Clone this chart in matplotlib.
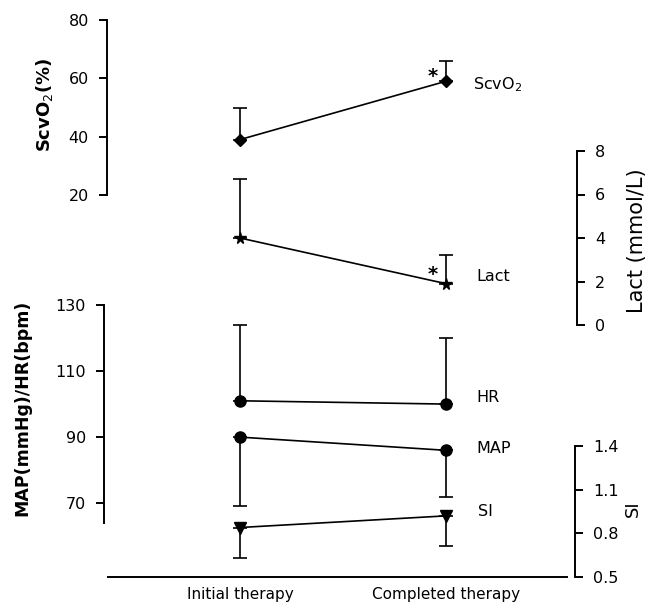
import matplotlib
matplotlib.use('Agg')
import matplotlib.pyplot as plt

plt.rcParams['font.family'] = ['DejaVu Sans']

# ---- data ----
categories = ['Initial therapy', 'Completed therapy']
scvo2 = [39, 59]
scvo2_sd = [11, 7]
lact = [4.0, 1.9]
lact_sd = [2.7, 1.3]
hr = [101, 100]
hr_sd = [23, 20]
map_vals = [90, 86]
map_sd = [21, 14]
si = [0.84, 0.92]
si_sd = [0.21, 0.21]

scv_ticks = [20, 40, 60, 80]
lact_ticks = [0, 2, 4, 6, 8]
map_ticks = [70, 90, 110, 130]
si_ticks = [0.5, 0.8, 1.1, 1.4]
si_ticklabels = ['0.5', '0.8', '1.1', '1.4']

# ---- layout (pixels) ----
W, H = 649, 608
X0, XU = 240, 206  # pixel of first category, pixels per category step
fig = plt.figure(figsize=(W / 100, H / 100), dpi=100)
LW = 1.4
TICKFS = 11.5


def make_ax(left_px, right_px, top_px, bottom_px):
    ax = fig.add_axes([left_px / W, 1 - bottom_px / H,
                       (right_px - left_px) / W, (bottom_px - top_px) / H])
    ax.set_xlim((left_px - X0) / XU, (right_px - X0) / XU)
    ax.patch.set_visible(False)
    for s in ax.spines.values():
        s.set_visible(False)
        s.set_linewidth(LW)
    ax.set_xticks([])
    ax.set_yticks([])
    return ax


x = list(range(len(categories)))
ekw = dict(color='black', lw=1.2, capsize=5, capthick=1.2, clip_on=False,
           elinewidth=1.2)

# ScvO2 axis (top-left)
ax_scv = make_ax(107, 577, 20, 195)
ax_scv.set_ylim(20, 80)
ax_scv.spines['left'].set_visible(True)
ax_scv.set_yticks(scv_ticks)
ax_scv.tick_params(axis='y', left=True, direction='out', length=6, width=LW,
                   pad=7, labelsize=TICKFS)
ax_scv.errorbar(x, scvo2, yerr=[[0, 0], scvo2_sd], marker='D', ms=6.5,
                mfc='black', mec='black', **ekw)

# Lact axis (right, upper)
ax_lact = make_ax(107, 577, 151, 325)
ax_lact.set_ylim(0, 8)
ax_lact.spines['right'].set_visible(True)
ax_lact.yaxis.tick_right()
ax_lact.set_yticks(lact_ticks)
ax_lact.tick_params(axis='y', right=True, left=False, direction='out',
                    length=6, width=LW, pad=7, labelsize=TICKFS)
ax_lact.errorbar(x, lact, yerr=[[0, 0], lact_sd], marker='*', ms=8.5,
                 mfc='black', mec='black', **ekw)

# MAP / HR axis (lower-left)
ax_map = make_ax(104, 577, 305, 523)
ax_map.set_ylim(64, 130)
ax_map.spines['left'].set_visible(True)
ax_map.set_yticks(map_ticks)
ax_map.tick_params(axis='y', left=True, direction='out', length=6, width=LW,
                   pad=7, labelsize=TICKFS)
ax_map.errorbar(x, hr, yerr=[[0, 0], hr_sd], marker='o', ms=8,
                mfc='black', mec='black', **ekw)
ax_map.errorbar(x, map_vals, yerr=[map_sd, [0, 0]], marker='o', ms=8,
                mfc='black', mec='black', **ekw)

# SI axis (right, lower) + bottom line with category labels
ax_si = make_ax(107, 575, 446, 577)
ax_si.set_ylim(0.5, 1.4)
ax_si.spines['right'].set_visible(True)
ax_si.spines['bottom'].set_visible(True)
ax_si.spines['bottom'].set_bounds((108 - X0) / XU, (567 - X0) / XU)
ax_si.yaxis.tick_right()
ax_si.set_yticks(si_ticks)
ax_si.set_yticklabels(si_ticklabels)
ax_si.tick_params(axis='y', right=True, left=False, direction='out',
                  length=6, width=LW, pad=7, labelsize=TICKFS)
ax_si.set_xticks(x)
ax_si.set_xticklabels(categories)
ax_si.tick_params(axis='x', length=0, pad=7, labelsize=11)

ax_si.errorbar(x, si, yerr=[si_sd, [0, 0]], marker='v', ms=8,
               mfc='black', mec='black', **ekw)

# series labels and significance marks
lab_kw = dict(textcoords='offset pixels', ha='left', va='center', fontsize=11.5)
ax_scv.annotate('ScvO$_2$', (x[1], scvo2[1]), xytext=(27, -3), **lab_kw)
ax_lact.annotate('Lact', (x[1], lact[1]), xytext=(30, 7), **lab_kw)
ax_map.annotate('HR', (x[1], hr[1]), xytext=(30, 7), **lab_kw)
ax_map.annotate('MAP', (x[1], map_vals[1]), xytext=(30, 2), **lab_kw)
ax_si.annotate('SI', (x[1], si[1]), xytext=(32, 4), **lab_kw)

ast_kw = dict(textcoords='offset pixels', ha='center', va='center',
              fontsize=14, fontweight='bold')
ax_scv.annotate('*', (x[1], scvo2[1]), xytext=(-13, 5), **ast_kw)
ax_lact.annotate('*', (x[1], lact[1]), xytext=(-13, 9), **ast_kw)

# axis titles
fig.text(45 / W, 1 - 105 / H, 'ScvO$_2$(%)', rotation=90, ha='center',
         va='center', fontsize=13, fontweight='bold')
fig.text(22 / W, 1 - 408 / H, 'MAP(mmHg)/HR(bpm)', rotation=90, ha='center',
         va='center', fontsize=12.5, fontweight='bold')
fig.text(637 / W, 1 - 241 / H, 'Lact (mmol/L)', rotation=90, ha='center',
         va='center', fontsize=15)
fig.text(633 / W, 1 - 509 / H, 'SI', rotation=90, ha='center',
         va='center', fontsize=13)

fig.savefig('out.png', dpi=100)
